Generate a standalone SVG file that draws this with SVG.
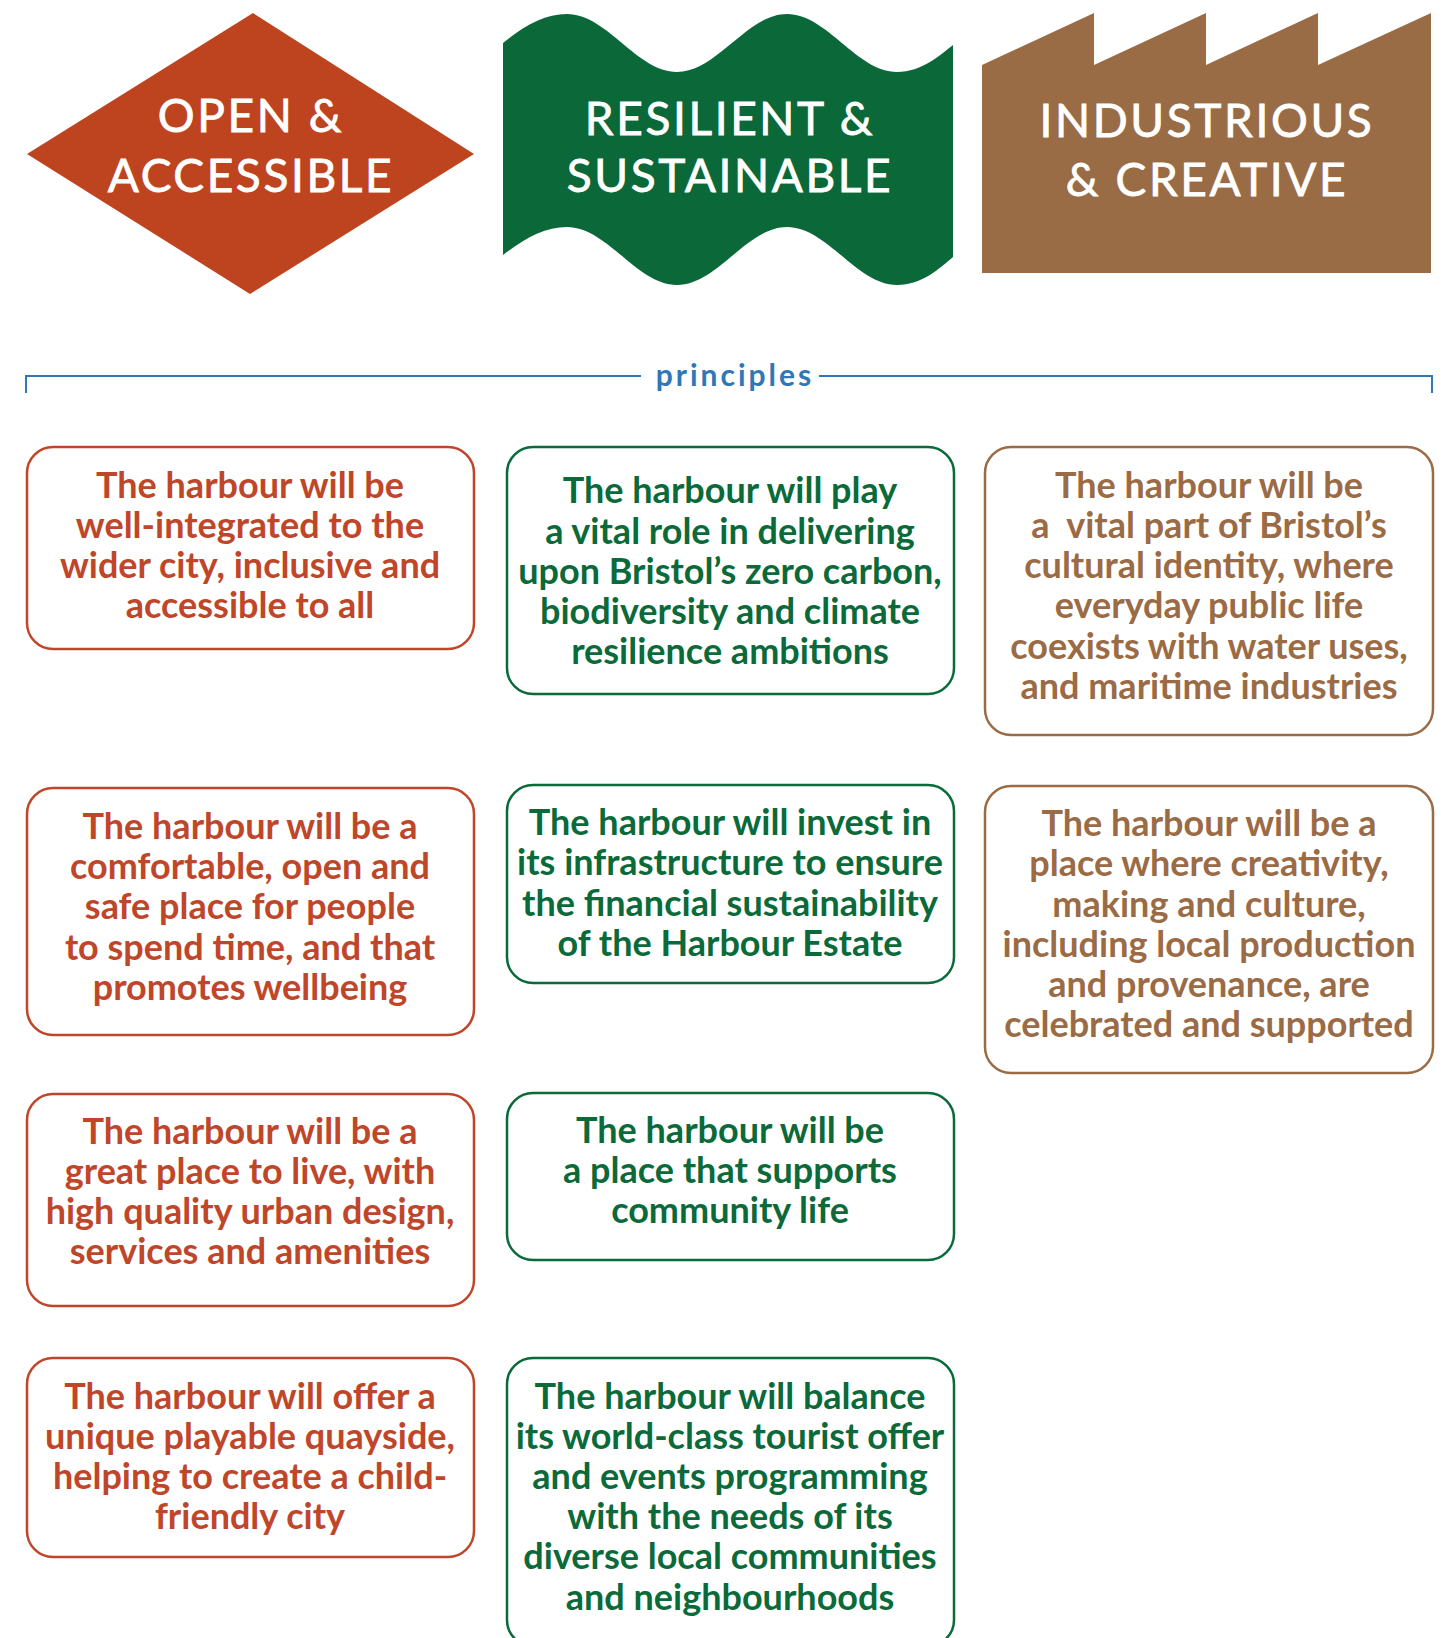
<svg xmlns="http://www.w3.org/2000/svg" width="1442" height="1638" viewBox="0 0 1442 1638">
<style>
.hd{font-family:Lato,"Open Sans",sans-serif;font-size:46px;fill:#ffffff;stroke:#ffffff;stroke-width:0.8;letter-spacing:2.6px;text-anchor:middle}
.bx{fill:#ffffff;stroke-width:2.5}
.t{font-family:Lato,"Open Sans",sans-serif;font-size:36px;font-weight:700;text-anchor:middle}
.r .bx{stroke:#C0462A}.r .t{fill:#C0462A}
.g .bx{stroke:#0B6A3A}.g .t{fill:#0B6A3A}
.b .bx{stroke:#9A6B45}.b .t{fill:#9A6B45}
.pr{font-family:Lato,"Open Sans",sans-serif;font-size:30px;font-weight:700;letter-spacing:3px;fill:#2F78B5;text-anchor:middle}
</style>
<rect width="1442" height="1638" fill="#ffffff"/>
<g id="head-open">
<polygon points="253,13 474,154 250,294 27,154" fill="#BE4420"/>
<text class="hd" x="251" y="132">OPEN &amp;</text>
<text class="hd" x="251" y="192">ACCESSIBLE</text>
</g>
<g id="head-resilient">
<path d="M503,43 C525,25 545,14 567,14 C607,14 637,72 677,72 C717,72 747,14 787,14 C827,14 857,72 897,72 C922,72 940,55 953,45 L953,257 C940,268 922,285 897,285 C857,285 827,227 787,227 C747,227 717,285 677,285 C637,285 607,227 567,227 C545,227 525,238 503,255 Z" fill="#0B6839"/>
<text class="hd" x="730" y="135">RESILIENT &amp;</text>
<text class="hd" x="730" y="192">SUSTAINABLE</text>
</g>
<g id="head-industrious">
<polygon points="982,65 1094,13 1094,65 1206,13 1206,65 1318,13 1318,65 1431,13 1431,273 982,273" fill="#996C46"/>
<text class="hd" x="1207" y="137">INDUSTRIOUS</text>
<text class="hd" x="1207" y="196">&amp; CREATIVE</text>
</g>
<g id="connectors">
<path d="M26,393 V376 H641 M819,376 H1432 V393" fill="none" stroke="#2F78B5" stroke-width="2"/>
</g>
<g id="label-principles">
<text class="pr" x="735" y="386">principles</text>
</g>
<g id="r1" class="r">
<rect class="bx" x="27" y="447" width="447" height="202" rx="26"/>
<text class="t" x="250" y="498">The harbour will be</text>
<text class="t" x="250" y="538">well-integrated to the</text>
<text class="t" x="250" y="578">wider city, inclusive and</text>
<text class="t" x="250" y="618">accessible to all</text>
</g>
<g id="r2" class="r">
<rect class="bx" x="27" y="788" width="447" height="247" rx="26"/>
<text class="t" x="250" y="839">The harbour will be a</text>
<text class="t" x="250" y="879">comfortable, open and</text>
<text class="t" x="250" y="919">safe place for people</text>
<text class="t" x="250" y="960">to spend time, and that</text>
<text class="t" x="250" y="1000">promotes wellbeing</text>
</g>
<g id="r3" class="r">
<rect class="bx" x="27" y="1094" width="447" height="212" rx="26"/>
<text class="t" x="250" y="1144">The harbour will be a</text>
<text class="t" x="250" y="1184">great place to live, with</text>
<text class="t" x="250" y="1224">high quality urban design,</text>
<text class="t" x="250" y="1264">services and amenities</text>
</g>
<g id="r4" class="r">
<rect class="bx" x="27" y="1358" width="447" height="199" rx="26"/>
<text class="t" x="250" y="1409">The harbour will offer a</text>
<text class="t" x="250" y="1449">unique playable quayside,</text>
<text class="t" x="250" y="1489">helping to create a child-</text>
<text class="t" x="250" y="1529">friendly city</text>
</g>
<g id="g1" class="g">
<rect class="bx" x="507" y="447" width="447" height="247" rx="26"/>
<text class="t" x="730" y="503">The harbour will play</text>
<text class="t" x="730" y="544">a vital role in delivering</text>
<text class="t" x="730" y="584">upon Bristol’s zero carbon,</text>
<text class="t" x="730" y="624">biodiversity and climate</text>
<text class="t" x="730" y="664">resilience ambitions</text>
</g>
<g id="g2" class="g">
<rect class="bx" x="507" y="785" width="447" height="198" rx="26"/>
<text class="t" x="730" y="835">The harbour will invest in</text>
<text class="t" x="730" y="875">its infrastructure to ensure</text>
<text class="t" x="730" y="916">the financial sustainability</text>
<text class="t" x="730" y="956">of the Harbour Estate</text>
</g>
<g id="g3" class="g">
<rect class="bx" x="507" y="1093" width="447" height="167" rx="26"/>
<text class="t" x="730" y="1143">The harbour will be</text>
<text class="t" x="730" y="1183">a place that supports</text>
<text class="t" x="730" y="1223">community life</text>
</g>
<g id="g4" class="g">
<rect class="bx" x="507" y="1358" width="447" height="288" rx="26"/>
<text class="t" x="730" y="1409">The harbour will balance</text>
<text class="t" x="730" y="1449">its world-class tourist offer</text>
<text class="t" x="730" y="1489">and events programming</text>
<text class="t" x="730" y="1529">with the needs of its</text>
<text class="t" x="730" y="1569">diverse local communities</text>
<text class="t" x="730" y="1610">and neighbourhoods</text>
</g>
<g id="b1" class="b">
<rect class="bx" x="985" y="447" width="448" height="288" rx="26"/>
<text class="t" x="1209" y="498">The harbour will be</text>
<text class="t" x="1209" y="538" style="white-space:pre">a  vital part of Bristol’s</text>
<text class="t" x="1209" y="578">cultural identity, where</text>
<text class="t" x="1209" y="618">everyday public life</text>
<text class="t" x="1209" y="659">coexists with water uses,</text>
<text class="t" x="1209" y="699">and maritime industries</text>
</g>
<g id="b2" class="b">
<rect class="bx" x="985" y="786" width="448" height="287" rx="26"/>
<text class="t" x="1209" y="836">The harbour will be a</text>
<text class="t" x="1209" y="876">place where creativity,</text>
<text class="t" x="1209" y="917">making and culture,</text>
<text class="t" x="1209" y="957">including local production</text>
<text class="t" x="1209" y="997">and provenance, are</text>
<text class="t" x="1209" y="1037">celebrated and supported</text>
</g>
</svg>
